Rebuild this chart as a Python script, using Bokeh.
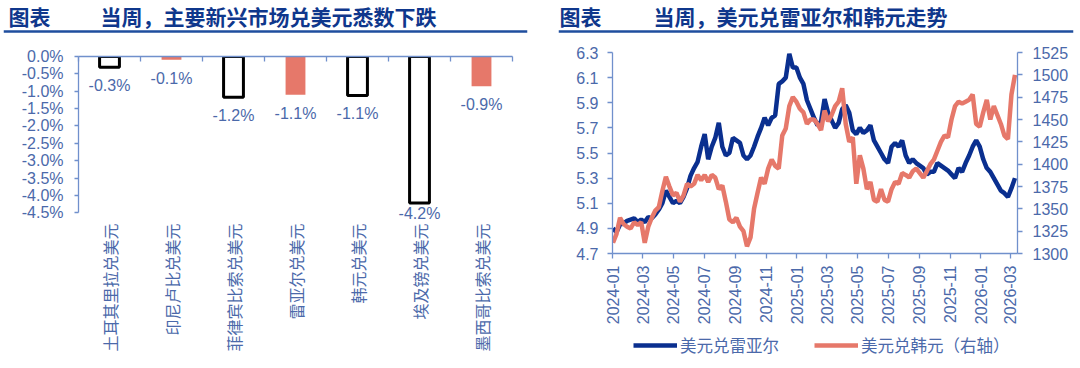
import pandas as pd
from math import pi
from bokeh.plotting import figure
from bokeh.layouts import row, column
from bokeh.models import (Range1d, LinearAxis, FixedTicker, CustomJSTickFormatter,
                          DatetimeTickFormatter, NumeralTickFormatter, Span,
                          Legend, LegendItem, ColumnDataSource)
from bokeh.core.properties import value
from bokeh.embed import file_html
from bokeh.resources import INLINE

# ---------------- data ----------------
left_tag = "图表"
left_title = "当周，主要新兴市场兑美元悉数下跌"
right_tag = "图表"
right_title = "当周，美元兑雷亚尔和韩元走势"

bar_categories = ["土耳其里拉兑美元", "印尼卢比兑美元", "菲律宾比索兑美元", "雷亚尔兑美元",
                  "韩元兑美元", "埃及镑兑美元", "墨西哥比索兑美元"]
bar_values = [-0.31, -0.09, -1.17, -1.10, -1.12, -4.22, -0.86]
bar_y_ticks = [0.0, -0.5, -1.0, -1.5, -2.0, -2.5, -3.0, -3.5, -4.0, -4.5]

series_start = "2024-01-02"
brl_name = "美元兑雷亚尔"
krw_name = "美元兑韩元（右轴）"
brl = [
    # 2024
    4.90, 4.87, 4.93, 4.94,
    4.96, 4.97, 4.98, 4.95,
    4.97, 4.95, 4.99, 4.98, 5.01,
    5.05, 5.10, 5.20, 5.15,
    5.10, 5.12, 5.10, 5.15, 5.22,
    5.32, 5.38, 5.43, 5.55,
    5.65, 5.45, 5.55, 5.62,
    5.74, 5.55, 5.48, 5.50, 5.62,
    5.60, 5.58, 5.48, 5.45,
    5.48, 5.55, 5.63, 5.70,
    5.78, 5.72, 5.78, 5.80, 6.05,
    6.07, 6.10, 6.29, 6.18,
    # 2025
    6.18, 6.10, 6.05, 5.92, 5.85,
    5.78, 5.72, 5.75, 5.93,
    5.82, 5.76, 5.70, 5.74,
    5.85, 5.88, 5.82, 5.68,
    5.65, 5.70, 5.66, 5.68, 5.72,
    5.60, 5.55, 5.50, 5.45,
    5.42, 5.55, 5.58, 5.55,
    5.60, 5.48, 5.42, 5.45, 5.42,
    5.40, 5.38, 5.33, 5.35,
    5.35, 5.42, 5.40, 5.38, 5.36,
    5.33, 5.30, 5.38, 5.35,
    5.42, 5.48, 5.55, 5.60,
    # 2026
    5.55, 5.45, 5.38, 5.35, 5.30,
    5.25, 5.20, 5.18, 5.15,
    5.22, 5.30,
]
krw = [
    # 2024
    1312, 1322, 1340, 1333,
    1330, 1328, 1335, 1332,
    1335, 1312, 1330, 1340, 1348,
    1352, 1370, 1386, 1375,
    1365, 1368, 1358, 1365, 1378,
    1375, 1378, 1388, 1382,
    1388, 1380, 1388, 1385,
    1372, 1376, 1358, 1338, 1335,
    1340, 1330, 1325, 1308,
    1318, 1350, 1368, 1385,
    1378, 1395, 1405, 1398, 1395,
    1432, 1440, 1465, 1475,
    # 2025
    1470, 1462, 1458, 1445, 1450,
    1450, 1445, 1438, 1460,
    1448, 1455, 1465, 1470,
    1485, 1445, 1425, 1430,
    1378, 1410, 1395, 1372, 1380,
    1360, 1358, 1372, 1360,
    1358, 1372, 1380, 1378,
    1390, 1388, 1385, 1392, 1395,
    1390, 1385, 1392, 1400,
    1405, 1415, 1425, 1432, 1430,
    1450, 1465, 1470, 1468,
    1470, 1472, 1478, 1445,
    # 2026
    1442, 1458, 1472, 1450, 1465,
    1455, 1445, 1432, 1428,
    1478, 1500,
]
date_ticks = ["2024-01", "2024-03", "2024-05", "2024-07", "2024-09", "2024-11",
              "2025-01", "2025-03", "2025-05", "2025-07", "2025-09", "2025-11",
              "2026-01", "2026-03"]
brl_ticks = [4.7, 4.9, 5.1, 5.3, 5.5, 5.7, 5.9, 6.1, 6.3]
krw_ticks = [1300, 1325, 1350, 1375, 1400, 1425, 1450, 1475, 1500, 1525]

# ---------------- style ----------------
NAVY = "#0A2F8F"
SALMON = "#E6786A"
TITLE_C = "#0F378C"
RULE_C = "#1F4E9E"
AXIS_C = "#7090CC"
TEXT_C = "#4B69AA"
CJK = "Noto Sans CJK SC"
NUM = "Liberation Sans"
LINE_W = 4.5
RED_BARS = {"印尼卢比兑美元", "雷亚尔兑美元", "墨西哥比索兑美元"}
W1, W2 = 548, 530
HEAD_H = 40
P1_H, FOOT1_H = 320, 8
P2_H, LEG_H, FOOT2_H = 288, 34, 6


def blank_fig(width, height, ml, mr):
    f = figure(width=width, height=height, x_range=Range1d(0, width - ml - mr),
               y_range=Range1d(height, 0), output_backend="svg", toolbar_location=None,
               x_axis_location=None, y_axis_location=None, frame_align=False,
               min_border_left=ml, min_border_right=mr, min_border_top=0, min_border_bottom=0)
    f.grid.visible = False
    f.outline_line_color = None
    return f


def header_fig(width, ml, mr, tag, title, tag_x, title_x):
    h = blank_fig(width, HEAD_H, ml, mr)
    h.text(x=[tag_x, title_x], y=[15, 15], text=[tag, title], text_font=value(CJK),
           text_font_style=value("bold"), text_font_size=value("21px"),
           text_color=value(TITLE_C), text_baseline=value("middle"), text_align=value("left"))
    h.add_layout(Span(location=31, dimension="width", line_color=RULE_C, line_width=2.5))
    return h


def footer_fig(width, height, ml, mr):
    f = blank_fig(width, height, ml, mr)
    f.add_layout(Span(location=height - 2.5, dimension="width", line_color=RULE_C,
                      line_width=2.5))
    return f


def style_axis(ax, tick_out=5, standoff=8):
    ax.axis_line_color = AXIS_C
    ax.axis_line_width = 1.3
    ax.major_tick_line_color = AXIS_C
    ax.major_tick_line_width = 1.3
    ax.major_tick_out = tick_out
    ax.major_tick_in = 0
    ax.minor_tick_line_color = None
    ax.major_label_text_color = TEXT_C
    ax.major_label_text_font = NUM
    ax.major_label_text_font_size = "16px"
    ax.major_label_standoff = standoff


# ---------------- left: bar chart ----------------
p1 = figure(width=W1, height=P1_H, x_range=Range1d(-0.5, len(bar_categories) - 0.5),
            y_range=Range1d(-4.75, 0), output_backend="svg", toolbar_location=None,
            x_axis_location=None, y_axis_location=None, frame_align=False,
            min_border_left=78, min_border_right=36, min_border_top=16, min_border_bottom=139)
p1.grid.visible = False
p1.outline_line_color = None

idx = list(range(len(bar_categories)))
blk = [i for i in idx if bar_categories[i] not in RED_BARS]
red = [i for i in idx if bar_categories[i] in RED_BARS]
src_blk = ColumnDataSource(dict(x=blk, v=[bar_values[i] for i in blk]))
src_red = ColumnDataSource(dict(x=red, v=[bar_values[i] for i in red]))
p1.vbar(x="x", top=0, bottom="v", width=0.32, source=src_red,
        fill_color=SALMON, line_color=None)
p1.vbar(x="x", top=0, bottom="v", width=0.32, source=src_blk,
        fill_color="white", line_color="black", line_width=3)

label_floor = -4.0
lab_src = ColumnDataSource(dict(x=idx, y=[max(v, label_floor) for v in bar_values],
                                t=[f"{v:.1f}%" for v in bar_values]))
p1.text(x="x", y="y", text="t", source=lab_src, text_align=value("center"),
        text_baseline=value("top"), y_offset=value(10), text_font=value(NUM),
        text_font_size=value("16px"), text_color=value(TEXT_C))

yax = LinearAxis(ticker=FixedTicker(ticks=bar_y_ticks),
                 formatter=CustomJSTickFormatter(code="return tick.toFixed(1) + '%'"),
                 bounds=(min(bar_y_ticks), max(bar_y_ticks)))
style_axis(yax, tick_out=4, standoff=11)
p1.add_layout(yax, "left")

top_ax = LinearAxis(ticker=FixedTicker(ticks=[i - 0.5 for i in range(len(bar_categories) + 1)]))
style_axis(top_ax, tick_out=0, standoff=0)
top_ax.major_tick_in = 5
top_ax.major_label_text_font_size = "0px"
top_ax.major_label_text_color = None
p1.add_layout(top_ax, "above")

cat_ax = LinearAxis(ticker=FixedTicker(ticks=idx),
                    major_label_overrides={i: c for i, c in enumerate(bar_categories)})
style_axis(cat_ax, tick_out=0, standoff=2)
cat_ax.axis_line_color = None
cat_ax.major_tick_line_color = None
cat_ax.major_label_orientation = pi / 2
cat_ax.major_label_text_font = CJK
p1.add_layout(cat_ax, "below")

# ---------------- right: line chart ----------------
dates = pd.date_range(series_start, periods=len(brl), freq="7D")
x_start = pd.Timestamp("2024-01-01")
x_end = pd.Timestamp("2026-03-15")
p2 = figure(width=W2, height=P2_H, x_axis_type="datetime",
            x_range=Range1d(x_start, x_end), y_range=Range1d(min(brl_ticks), max(brl_ticks)),
            output_backend="svg", toolbar_location=None, frame_align=False,
            min_border_left=64, min_border_right=61, min_border_top=12, min_border_bottom=75)
p2.grid.visible = False
p2.outline_line_color = None
p2.extra_y_ranges = {"krw": Range1d(min(krw_ticks), max(krw_ticks))}

p2.line(dates, brl, color=NAVY, line_width=LINE_W)
p2.line(dates, krw, color=SALMON, line_width=LINE_W, y_range_name="krw")

xa = p2.xaxis[0]
xa.ticker = FixedTicker(ticks=[pd.Timestamp(d).timestamp() * 1000 for d in date_ticks])
xa.formatter = DatetimeTickFormatter(days="%Y-%m", months="%Y-%m", years="%Y-%m")
style_axis(xa, tick_out=5, standoff=7)
xa.major_label_orientation = pi / 2

ya = p2.yaxis[0]
ya.ticker = FixedTicker(ticks=brl_ticks)
ya.formatter = NumeralTickFormatter(format="0.0")
style_axis(ya, tick_out=5, standoff=9)

ya2 = LinearAxis(y_range_name="krw", ticker=FixedTicker(ticks=krw_ticks))
style_axis(ya2, tick_out=5, standoff=10)
p2.add_layout(ya2, "right")

# legend strip below the chart (proxy renderers holding a single NaN point)
lf = blank_fig(W2, LEG_H, 64, 61)
nan = float("nan")
k_brl = lf.line(x=[nan], y=[nan], color=NAVY, line_width=LINE_W)
k_krw = lf.line(x=[nan], y=[nan], color=SALMON, line_width=LINE_W)
legend = Legend(items=[LegendItem(label=brl_name, renderers=[k_brl]),
                       LegendItem(label=krw_name, renderers=[k_krw])],
                location=(21, 0), orientation="horizontal",
                glyph_width=44, glyph_height=LEG_H, label_height=LEG_H, label_standoff=3,
                spacing=35, padding=0, margin=0,
                label_text_font=CJK, label_text_font_size="16.5px", label_text_color=TEXT_C,
                background_fill_alpha=0, border_line_color=None)
lf.add_layout(legend)

# ---------------- assemble ----------------
left = column(header_fig(W1, 3, 21, left_tag, left_title, 5, 97), p1,
              footer_fig(W1, FOOT1_H, 3, 18))
right = column(header_fig(W2, 10, 5, right_tag, right_title, 1, 95), p2, lf,
               footer_fig(W2, FOOT2_H, 13, 3))
layout = row(left, right)
open("out.html", "w").write(file_html(layout, INLINE))
